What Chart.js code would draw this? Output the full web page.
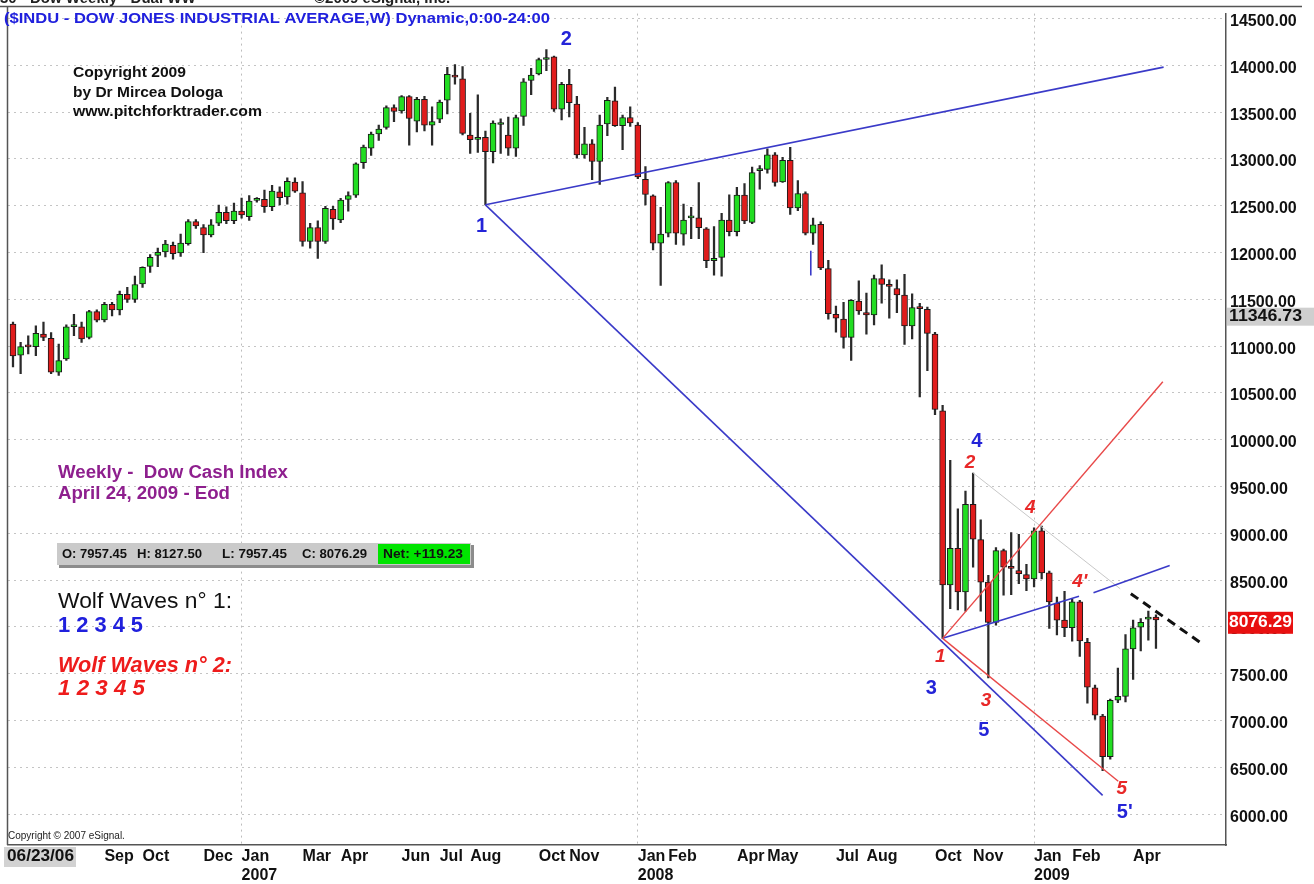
<!DOCTYPE html>
<html><head><meta charset="utf-8">
<script src="https://cdn.jsdelivr.net/npm/chart.js@4.4.1/dist/chart.umd.min.js"></script>
<style>html,body{margin:0;padding:0;background:#fff;}canvas{display:block;}</style>
</head><body>
<canvas id="c" width="1314" height="884"></canvas>
<script>
// ---- weekly OHLC, first bar = week ending 06/09/06, last = 04/24/09 ----
const opens = [11235,10903,11003,10994,11129,11083,10723,10864,11208,11206,
11094,11369,11281,11447,11387,11553,11500,11666,11853,11970,
12006,12076,11995,12094,12330,12266,12189,12313,12430,12341,
12444,12383,12558,12568,12489,12648,12595,12754,12638,12118,
12266,12118,12461,12348,12568,12613,12960,13114,13267,13338,
13549,13514,13666,13404,13638,13362,13426,13627,13890,13856,
13256,13210,13231,13079,13368,13256,13115,13454,13839,13909,
14063,14090,13532,13797,13585,13044,13161,12973,13373,13620,
13355,13443,13362,12783,12606,12101,12207,12748,12196,12370,
12372,12253,11913,11948,12348,12224,12613,12323,12875,12888,
13044,12754,12984,12478,12631,12207,12302,11828,11340,11288,
11094,11482,11359,11334,11723,11645,11616,11546,11217,11410,
11394,11129,10310,8450,8839,8373,9309,8932,8479,8048,
8815,8638,8603,8558,8514,9027,8578,8256,8072,7991,
8267,7836,7348,7048,6613,7218,7258,7766,7998,8083,
8105];
const highs = [11258,11041,11111,11217,11256,11146,11023,11228,11341,11258,
11383,11388,11468,11468,11588,11628,11748,11848,11978,12048,
12131,12111,12198,12351,12351,12298,12351,12508,12488,12528,
12583,12608,12588,12668,12718,12703,12798,12798,12758,12311,
12338,12493,12493,12578,12648,12958,13148,13288,13363,13568,
13578,13678,13678,13658,13668,13558,13628,13978,14008,13988,
13488,13684,13298,13408,13428,13448,13468,13858,13968,14078,
14168,14098,13818,13958,13668,13338,13208,13468,13658,13768,
13468,13558,13388,12918,12618,12483,12758,12768,12518,12483,
12748,12268,12278,12418,12618,12698,12738,12913,12928,13108,
13068,13018,13125,12768,12648,12368,12328,11918,11428,11468,
11498,11698,11568,11758,11868,11708,11708,11768,11558,11458,
11418,11148,10368,9779,9263,9451,9645,9144,8550,8848,
8832,9009,8988,8668,9058,9078,8598,8320,8380,8298,
8285,7878,7378,7066,7228,7560,7918,8072,8090,8168,
8130];
const lows = [10779,10705,10918,10899,11058,10705,10687,10848,11111,11041,
11076,11258,11258,11323,11333,11468,11468,11628,11788,11848,
11954,11928,11958,12080,12258,11998,12168,12288,12308,12308,
12368,12343,12538,12428,12448,12508,12518,12643,12068,12048,
11938,12098,12248,12318,12443,12588,12898,13038,13198,13318,
13398,13488,13148,13288,13300,13148,13388,13482,13798,13258,
13058,13069,12510,12958,13058,13038,13028,13358,13688,13898,
13943,13508,13418,13448,13008,13008,12778,12728,13248,13348,
13098,13348,12788,12508,12028,11648,12168,12088,12078,12148,
12148,11838,11758,11748,12178,12178,12308,12308,12678,12848,
12708,12748,12408,12448,12188,12088,11818,11288,11148,10978,
10848,11338,11128,11228,11458,11298,11358,11018,11078,10458,
10738,10268,7878,8196,8182,8169,8638,8168,7454,8018,
8338,8344,8461,8388,8428,8514,7984,7914,7896,7848,
7684,7186,7013,6465,6588,7190,7198,7438,7744,7858,
7770];
const closes = [10896,10994,10993,11136,11094,10723,10846,11206,11218,11076,
11369,11277,11447,11387,11553,11500,11659,11842,11948,12002,
12090,11988,12101,12330,12284,12189,12295,12430,12341,12444,
12401,12549,12563,12489,12658,12585,12761,12655,12118,12266,
12118,12472,12358,12560,12608,12949,13126,13267,13320,13549,
13507,13666,13432,13638,13362,13398,13608,13903,13875,13273,
13207,13222,13079,13384,13378,13115,13443,13825,13896,14062,
14070,13532,13797,13602,13044,13161,12973,13362,13627,13355,
13443,13384,12807,12620,12101,12196,12748,12207,12348,12375,
12266,11913,11938,12348,12224,12613,12337,12854,12880,13044,
12748,12984,12478,12631,12207,12295,11836,11347,11298,11094,
11489,11376,11334,11723,11659,11638,11546,11217,11412,11400,
11136,10323,8450,8839,8373,9309,8938,8479,8048,8815,
8638,8625,8568,8514,9027,8578,8267,8072,7991,8267,
7850,7355,7058,6613,7215,7258,7766,7991,8048,8099,
8076];

// ---- axis ticks ----
const monthTickIdx = [12,17,25,30,38,43,51,56,60,69,73,82,86,95,99,108,112,121,126,134,139,147];
const monthTickLabels = ['Sep','Oct','Dec',['Jan','2007'],'Mar','Apr','Jun','Jul','Aug','Oct','Nov',['Jan','2008'],'Feb','Apr','May','Jul','Aug','Oct','Nov',['Jan','2009'],'Feb','Apr'];
const yTickValues = [6000,6500,7000,7500,8000,8500,9000,9500,10000,10500,11000,11500,12000,12500,13000,13500,14000,14500];
const firstDateLabel = '06/23/06';
const lastPrice = 8076.29;
const markerPrice = 11346.73;
const infoFields = ['O: 7957.45','H: 8127.50','L: 7957.45','C: 8076.29'];
const netChange = 'Net: +119.23';

// ---- wolf wave annotations, in [week index, price] ----
const blueSegments = [[62,12510,151,13981],[62,12510,143,6200],[122,7878,139.9,8328],[141.8,8366,151.8,8656],[104.7,12020,104.7,11755]];
const redSegments = [[122,7878,150.9,10620],[122,7878,145.05,6352]];
const graySegments = [[126,9645,145.3,8408]];
const dashedSegments = [[146.7,8355,156.2,7811]];
const blueLabels = [['1',61.5,12274],['2',72.6,14277],['3',120.5,7345],['4',126.5,9984],['5',127.4,6889],["5'",145.9,6020]];
const redLabels = [['1',121.7,7684],['2',125.6,9751],['3',127.7,7207],['4',133.5,9274],["4'",140,8479],['5',145.5,6274]];

const FONT = 'Liberation Sans, Arial, sans-serif';
const UP = '#22dd22', DOWN = '#e01c1c';

function txt(ctx, s, x, y, font, color, w) {
  ctx.save();
  ctx.font = font; ctx.fillStyle = color; ctx.textBaseline = 'middle'; ctx.textAlign = 'left';
  const m = ctx.measureText(s).width;
  const k = w ? w / m : 1;
  ctx.translate(x, y); ctx.scale(k, 1); ctx.fillText(s, 0, 0);
  ctx.restore();
}

const overlay = {
  id: 'overlay',
  beforeDraw(chart) {
    const ctx = chart.ctx;
    ctx.save();
    ctx.fillStyle = '#fff'; ctx.fillRect(0, 0, chart.width, chart.height);
    ctx.restore();
  },
  afterDatasetsDraw(chart) {
    const ctx = chart.ctx, xs = chart.scales.x, ys = chart.scales.y, a = chart.chartArea;
    ctx.save();
    ctx.beginPath(); ctx.rect(a.left, a.top, a.right - a.left, a.bottom - a.top); ctx.clip();
    const seg = (list, color, w, dash) => {
      ctx.strokeStyle = color; ctx.lineWidth = w; ctx.setLineDash(dash || []);
      list.forEach(s => {
        ctx.beginPath();
        ctx.moveTo(xs.getPixelForValue(s[0]), ys.getPixelForValue(s[1]));
        ctx.lineTo(xs.getPixelForValue(s[2]), ys.getPixelForValue(s[3]));
        ctx.stroke();
      });
    };
    seg(graySegments, '#c8c8c8', 1);
    seg(blueSegments, '#3a3ac8', 1.6);
    seg(redSegments, '#e84848', 1.4);
    seg(dashedSegments, '#111', 3, [9, 6]);
    ctx.setLineDash([]);
    ctx.textAlign = 'center'; ctx.textBaseline = 'middle';
    ctx.font = 'bold 20px ' + FONT; ctx.fillStyle = '#2424d8';
    blueLabels.forEach(l => ctx.fillText(l[0], xs.getPixelForValue(l[1]), ys.getPixelForValue(l[2])));
    ctx.font = 'italic bold 19px ' + FONT; ctx.fillStyle = '#e82828';
    redLabels.forEach(l => ctx.fillText(l[0], xs.getPixelForValue(l[1]), ys.getPixelForValue(l[2])));
    ctx.restore();
  },
  afterDraw(chart) {
    const ctx = chart.ctx, a = chart.chartArea, ys = chart.scales.y;
    ctx.save();
    ctx.strokeStyle = '#555'; ctx.lineWidth = 1.5;
    ctx.beginPath(); ctx.moveTo(0, 6.5); ctx.lineTo(1302, 6.5); ctx.stroke();
    ctx.beginPath(); ctx.moveTo(a.left - 0.5, 6); ctx.lineTo(a.left - 0.5, a.bottom); ctx.stroke();
    ctx.restore();
    ctx.save(); ctx.font = 'bold 15px ' + FONT; ctx.fillStyle = '#222'; ctx.textBaseline = 'alphabetic';
    ctx.fillText('30 - Dow Weekly - Dual WW', 0, 3); ctx.fillText('\u00A92009 eSignal, Inc.', 314, 3); ctx.restore();
    txt(ctx, '($INDU - DOW JONES INDUSTRIAL AVERAGE,W) Dynamic,0:00-24:00', 4, 19, 'bold 15px ' + FONT, '#2020dd', 546);
    txt(ctx, 'Copyright 2009', 73, 73, 'bold 15px ' + FONT, '#111', 113);
    txt(ctx, 'by Dr Mircea Dologa', 73, 93, 'bold 15px ' + FONT, '#111', 150);
    txt(ctx, 'www.pitchforktrader.com', 73, 112, 'bold 15px ' + FONT, '#111', 189);
    txt(ctx, 'Weekly -  Dow Cash Index', 58, 473, 'bold 18px ' + FONT, '#8e1f8e', 230);
    txt(ctx, 'April 24, 2009 - Eod', 58, 494, 'bold 18px ' + FONT, '#8e1f8e', 172);
    ctx.save();
    ctx.fillStyle = '#8c8c8c'; ctx.fillRect(59, 545, 415, 23);
    ctx.fillStyle = '#cacaca'; ctx.fillRect(57, 543, 414, 22);
    ctx.fillStyle = '#00e400'; ctx.fillRect(378, 544, 92, 20);
    ctx.restore();
    const fx = [62, 137, 222, 302];
    infoFields.forEach((s, i) => txt(ctx, s, fx[i], 554, 'bold 13px ' + FONT, '#111', 65));
    txt(ctx, netChange, 383, 554, 'bold 13px ' + FONT, '#111', 80);
    txt(ctx, 'Wolf Waves n\u00B0 1:', 58, 602, '22px ' + FONT, '#111', 174);
    txt(ctx, '1 2 3 4 5', 58, 626, 'bold 22px ' + FONT, '#2020dd', 85);
    txt(ctx, 'Wolf Waves n\u00B0 2:', 58, 666, 'italic bold 22px ' + FONT, '#ee1c1c', 174);
    txt(ctx, '1 2 3 4 5', 58, 689, 'italic bold 22px ' + FONT, '#ee1c1c', 87);
    txt(ctx, 'Copyright \u00A9 2007 eSignal.', 8, 836, '10px ' + FONT, '#222');
    const ym = ys.getPixelForValue(markerPrice) + 3;
    ctx.save(); ctx.fillStyle = '#cfcfcf'; ctx.fillRect(1227, ym - 9, 87, 18); ctx.restore();
    txt(ctx, markerPrice.toFixed(2), 1229, ym, 'bold 16px ' + FONT, '#111', 73);
    const yl = ys.getPixelForValue(lastPrice) + 3;
    ctx.save(); ctx.fillStyle = '#e81010'; ctx.fillRect(1228, yl - 11, 65, 22); ctx.restore();
    txt(ctx, lastPrice.toFixed(2), 1229, yl, 'bold 16px ' + FONT, '#fff', 63);
    ctx.save(); ctx.fillStyle = '#d2d2d2'; ctx.fillRect(4, 847, 72, 20); ctx.restore();
    txt(ctx, firstDateLabel, 7, 857, 'bold 16px ' + FONT, '#111', 67);
  }
};

const ctx = document.getElementById('c').getContext('2d');
new Chart(ctx, {
  type: 'bar',
  data: {
    datasets: [
      { label: 'range', data: lows.map((l, i) => ({ x: i, y: [l, highs[i]] })),
        backgroundColor: '#2a2a2a', barThickness: 1.6, grouped: false, order: 2 },
      { label: 'body', data: opens.map((o, i) => ({ x: i, y: [o, closes[i]] })),
        backgroundColor: opens.map((o, i) => closes[i] >= o ? UP : DOWN),
        borderColor: '#1a1a1a', borderWidth: 1, borderSkipped: false,
        barThickness: 6, minBarLength: 2, grouped: false, order: 1 }
    ]
  },
  options: {
    responsive: false, animation: false, devicePixelRatio: 1,
    layout: { padding: { left: 8, top: 7, right: 0, bottom: 0 } },
    plugins: { legend: { display: false }, tooltip: { enabled: false } },
    scales: {
      x: {
        type: 'linear', min: -0.656, max: 159.19, offset: false,
        afterBuildTicks(s) { s.ticks = monthTickIdx.map(v => ({ value: v })); },
        afterFit(s) { s.height = 39; },
        ticks: { autoSkip: false, maxRotation: 0, minRotation: 0, align: 'start', padding: 2, color: '#111',
          font: { family: FONT, size: 16, weight: 'bold', lineHeight: 1.2 },
          callback: (v, i) => monthTickLabels[i] },
        grid: { offset: false, drawTicks: false, lineWidth: 1,
          color: c => Array.isArray(monthTickLabels[c.index]) ? '#bdbdbd' : 'rgba(0,0,0,0)' },
        border: { display: true, color: '#555', width: 1.5, dash: [2, 4] }
      },
      y: {
        type: 'linear', position: 'right', min: 5670, max: 14553,
        afterBuildTicks(s) { s.ticks = yTickValues.map(v => ({ value: v })); },
        afterFit(s) { s.width = 88; },
        ticks: { padding: 4, labelOffset: 3, color: '#111',
          font: { family: FONT, size: 16, weight: 'bold' },
          callback: v => Number(v).toFixed(2) },
        grid: { drawTicks: false, color: '#c4c4c4', lineWidth: 1 },
        border: { display: true, color: '#555', width: 1.5, dash: [2, 4] }
      }
    }
  },
  plugins: [overlay]
});
</script>
</body></html>
